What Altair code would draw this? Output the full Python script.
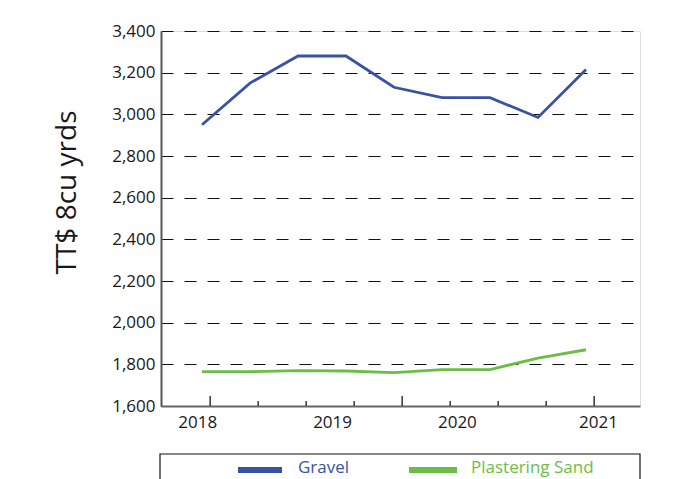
import altair as alt
import pandas as pd

# ---- data ----
point_index = [0, 1, 2, 3, 4, 5, 6, 7, 8]
gravel = [2950, 3150, 3280, 3280, 3130, 3080, 3080, 2985, 3215]
plastering_sand = [1765, 1765, 1770, 1768, 1760, 1775, 1775, 1830, 1870]
series_names = ["Gravel", "Plastering Sand"]
series_colors = ["#3953a4", "#6cbd45"]
year_labels = ["2018", "2019", "2020", "2021"]
year_label_pos = [-0.1, 2.71, 5.31, 8.25]
tick_pos = [0.17, 1.17, 2.17, 3.17, 4.17, 5.17, 6.17, 7.17, 8.17]
tick_major = [True, False, False, False, True, False, False, False, True]
y_ticks = [1600, 1800, 2000, 2200, 2400, 2600, 2800, 3000, 3200, 3400]

FONT = "Open Sans"
W, H = 479, 375

rows = []
for i, g, s in zip(point_index, gravel, plastering_sand):
    rows.append({"idx": i, "value": g, "series": series_names[0]})
    rows.append({"idx": i, "value": s, "series": series_names[1]})
df = pd.DataFrame(rows)

label_expr = " : ".join(
    f"datum.value == {p} ? '{y}'" for p, y in zip(year_label_pos, year_labels)
) + " : ''"

x_scale = alt.Scale(domain=[-0.854, 9.125], nice=False, zero=False)
y_scale = alt.Scale(domain=[1600, 3400], nice=False, zero=False)

lines = alt.Chart(df).mark_line(strokeWidth=2.8).encode(
    x=alt.X("idx:Q", scale=x_scale,
            axis=alt.Axis(values=year_label_pos, labelExpr=label_expr, title=None,
                          ticks=False, grid=False, labelPadding=8,
                          labelFontSize=17, labelFont=FONT, labelColor="#1a1718",
                          domainColor="#666666", domainWidth=2, labelFlush=False)),
    y=alt.Y("value:Q", scale=y_scale,
            axis=alt.Axis(values=y_ticks, format=",d", title="TT$ 8cu yrds",
                          ticks=False, labelPadding=6, labelFontSize=17,
                          labelFont=FONT, labelColor="#1a1718",
                          grid=True, gridDash=[12, 11], gridColor="#111111",
                          gridWidth=1.2, gridOpacity=1,
                          domainColor="#555555", domainWidth=2,
                          titleFont=FONT, titleFontSize=28, titleFontWeight="normal",
                          titleColor="#1a1718", titleAngle=270, titleX=-94, titleY=161,
                          titleAlign="center", titleBaseline="middle")),
    color=alt.Color("series:N", scale=alt.Scale(domain=series_names, range=series_colors),
                    legend=None),
)

ticks_df = pd.DataFrame({"pos": tick_pos, "major": tick_major})
major_ticks = alt.Chart(ticks_df).transform_filter("datum.major").mark_rule(
    color="#333333", strokeWidth=1.5).encode(
    x=alt.X("pos:Q", scale=x_scale), y=alt.value(H), y2=alt.value(H - 10))
minor_ticks = alt.Chart(ticks_df).transform_filter("!datum.major").mark_rule(
    color="#333333", strokeWidth=1.5).encode(
    x=alt.X("pos:Q", scale=x_scale), y=alt.value(H), y2=alt.value(H - 5))

# ---- manual legend box below the plot ----
legend_box = alt.Chart(pd.DataFrame({"k": [0]})).mark_rect(
    fill="white", stroke="#111111", strokeWidth=1.2).encode(
    x=alt.value(-1), x2=alt.value(W), y=alt.value(423), y2=alt.value(480))

legend_layout = [
    {"sx": 77, "sx2": 121, "tx": 137},
    {"sx": 248, "sx2": 296, "tx": 310},
]
legend_layers = []
for name, color, lay in zip(series_names, series_colors, legend_layout):
    d = pd.DataFrame({"name": [name]})
    legend_layers.append(alt.Chart(d).mark_rule(color=color, strokeWidth=6).encode(
        x=alt.value(lay["sx"]), x2=alt.value(lay["sx2"]), y=alt.value(439)))
    legend_layers.append(alt.Chart(d).mark_text(
        align="left", baseline="middle", fontSize=17, font=FONT, color=color).encode(
        x=alt.value(lay["tx"]), y=alt.value(437), text="name:N"))

chart = alt.layer(lines, major_ticks, minor_ticks, legend_box, *legend_layers).properties(
    width=W, height=H,
    padding={"left": 153, "top": 23, "right": 45, "bottom": 73},
    autosize=alt.AutoSizeParams(type="none"),
).configure_view(stroke="#808080", strokeWidth=2).configure(background="white")

chart.save("out.html", embed_options={"renderer": "svg", "actions": False})
